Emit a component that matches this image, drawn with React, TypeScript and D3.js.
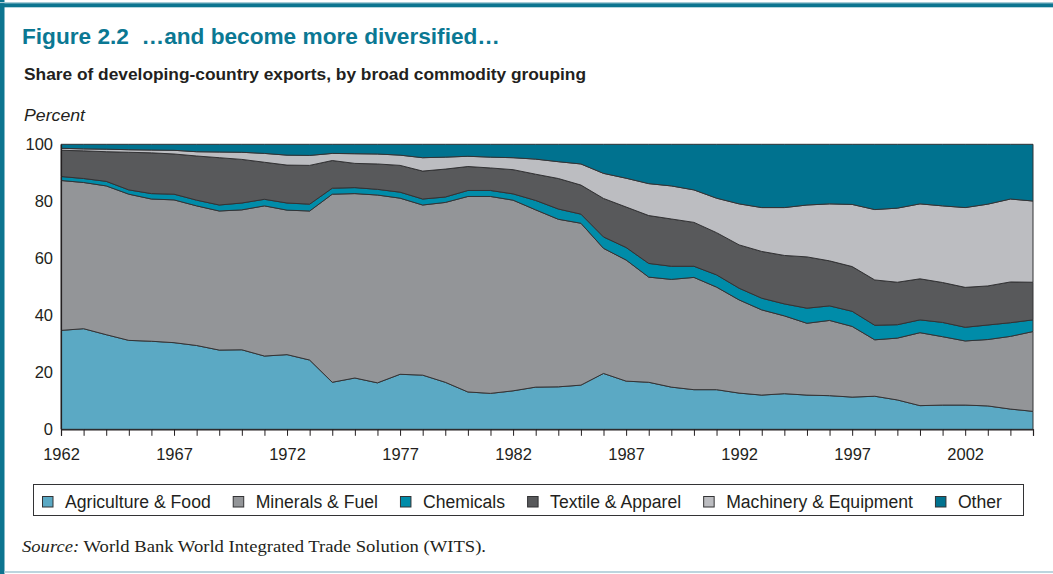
import React, { useEffect, useRef } from 'react';
import * as d3 from 'd3';

const years = d3.range(1962, 2006);

const categories = ['Agriculture & Food', 'Minerals & Fuel', 'Chemicals', 'Textile & Apparel', 'Machinery & Equipment', 'Other'];

// shares in percent, 1962..2005
const agriculture = [34.7, 35.3, 33.2, 31.2, 30.9, 30.4, 29.4, 27.8, 27.9, 25.7, 26.2, 24.3, 16.5, 18.0, 16.3, 19.3, 19.0, 16.5, 13.1, 12.6, 13.5, 14.8, 14.9, 15.5, 19.6, 16.9, 16.5, 14.8, 13.9, 13.9, 12.7, 12.0, 12.5, 12.0, 11.8, 11.3, 11.6, 10.3, 8.3, 8.5, 8.5, 8.2, 7.1, 6.3];
const minerals = [52.6, 51.3, 52.2, 51.3, 49.9, 50.1, 49.0, 48.8, 49.1, 52.7, 50.7, 52.3, 66.0, 64.7, 65.9, 61.8, 59.7, 63.1, 68.6, 69.1, 66.9, 62.2, 58.8, 56.8, 43.9, 42.5, 36.9, 37.8, 39.4, 36.0, 32.7, 29.9, 27.3, 25.2, 26.4, 24.8, 19.8, 21.7, 25.6, 24.0, 22.5, 23.3, 25.5, 28.0];
const chemicals = [1.4, 1.4, 1.6, 1.5, 1.9, 2.0, 2.0, 2.1, 2.4, 2.3, 2.5, 2.4, 2.1, 2.1, 2.0, 2.1, 2.1, 1.9, 2.1, 2.1, 2.2, 3.3, 3.6, 3.2, 4.0, 4.4, 4.8, 4.6, 3.9, 4.3, 4.1, 4.1, 4.2, 5.3, 5.1, 5.3, 5.1, 4.7, 4.5, 5.0, 4.8, 5.1, 4.8, 4.1];
const textile = [9.2, 9.7, 10.4, 13.2, 14.3, 14.1, 15.5, 16.6, 15.3, 13.0, 13.3, 13.6, 9.7, 8.5, 8.9, 9.4, 9.8, 9.8, 8.4, 7.9, 8.5, 9.2, 10.7, 10.2, 13.5, 14.2, 16.8, 16.6, 15.4, 14.8, 15.2, 16.4, 17.0, 18.0, 15.8, 15.7, 15.9, 14.9, 14.4, 14.0, 14.0, 13.7, 14.3, 13.2];
const machinery = [0.7, 0.7, 0.9, 0.9, 1.0, 1.3, 1.5, 2.0, 2.5, 3.1, 3.5, 3.5, 2.5, 3.4, 3.5, 3.6, 4.7, 4.2, 3.6, 3.8, 4.2, 5.3, 5.9, 7.4, 8.8, 10.1, 11.2, 11.6, 11.4, 12.1, 14.4, 15.4, 16.8, 18.2, 20.0, 21.8, 24.7, 26.0, 26.3, 26.9, 28.0, 28.7, 29.1, 28.5];
const other = [1.4, 1.6, 1.7, 1.9, 2.0, 2.1, 2.6, 2.7, 2.8, 3.2, 3.8, 3.9, 3.2, 3.3, 3.4, 3.8, 4.7, 4.5, 4.2, 4.5, 4.7, 5.2, 6.1, 6.9, 10.2, 11.9, 13.8, 14.6, 16.0, 18.9, 20.9, 22.2, 22.2, 21.3, 20.9, 21.1, 22.9, 22.4, 20.9, 21.6, 22.2, 21.0, 19.2, 19.9];

const series = [agriculture, minerals, chemicals, textile, machinery, other];
const colors = ['#5ba9c4', '#939598', '#008ca9', '#58595b', '#bcbdc1', '#00728f'];
const yTicks = [0, 20, 40, 60, 80, 100];

const W = 1053;
const H = 574;
const sans = '"Liberation Sans", Arial, Helvetica, sans-serif';

export default function App() {
  const svgRef = useRef<SVGSVGElement>(null);

  useEffect(() => {
    if (!svgRef.current) return;
    const svg = d3.select(svgRef.current);
    svg.selectAll('*').remove();

    const margin = { top: 144.3, right: 20, bottom: 144.7, left: 61 };
    const x = d3.scaleLinear().domain([1962, 2005]).range([margin.left, W - margin.right]);
    const y = d3.scaleLinear().domain([0, 100]).range([H - margin.bottom, margin.top]);

    // frame
    svg.append('rect').attr('x', 0).attr('y', 0).attr('width', 4.5).attr('height', H).attr('fill', '#0d7590');
    svg.append('rect').attr('x', 0).attr('y', 2).attr('width', W).attr('height', 1.3).attr('fill', '#a9cdd8');
    svg.append('rect').attr('x', 0).attr('y', 3.3).attr('width', W).attr('height', 4).attr('fill', '#0d7590');
    svg.append('rect').attr('x', 4.5).attr('y', 571).attr('width', W).attr('height', 2).attr('fill', '#bcd5de');

    // titles
    svg.append('text').attr('x', 22).attr('y', 44)
      .attr('font-family', sans).attr('font-weight', 'bold').attr('font-size', 22.5)
      .attr('textLength', 478).attr('lengthAdjust', 'spacingAndGlyphs')
      .attr('fill', '#0b7893').text('Figure 2.2\u00a0\u00a0\u2026and become more diversified\u2026');
    svg.append('text').attr('x', 24).attr('y', 80)
      .attr('font-family', sans).attr('font-weight', 'bold').attr('font-size', 16)
      .attr('textLength', 562).attr('lengthAdjust', 'spacingAndGlyphs')
      .attr('fill', '#231f20').text('Share of developing-country exports, by broad commodity grouping');
    svg.append('text').attr('x', 24).attr('y', 121)
      .attr('font-family', sans).attr('font-style', 'italic').attr('font-size', 17)
      .attr('textLength', 61).attr('lengthAdjust', 'spacingAndGlyphs')
      .attr('fill', '#231f20').text('Percent');

    // stacked areas
    const rows = years.map((yr, i) => {
      const r: Record<string, number> = { year: yr };
      categories.forEach((c, j) => { r[c] = series[j][i]; });
      return r;
    });
    const stacked = d3.stack<Record<string, number>>().keys(categories)(rows);
    const area = d3.area<d3.SeriesPoint<Record<string, number>>>()
      .x(d => x(d.data.year))
      .y0(d => y(d[0]))
      .y1(d => y(d[1]));

    svg.append('g').selectAll('path')
      .data(stacked)
      .enter()
      .append('path')
      .attr('d', area)
      .attr('fill', (_, i) => colors[i])
      .attr('stroke', '#333335')
      .attr('stroke-width', 1)
      .attr('stroke-linejoin', 'round');

    // x axis
    const xAxis = svg.append('g')
      .attr('transform', `translate(0,${y(0)})`)
      .call(d3.axisBottom(x).tickValues(years).tickSize(6.5).tickPadding(12)
        .tickFormat(d => ((d as number) - 1962) % 5 === 0 ? String(d) : ''));
    xAxis.select('.domain').attr('stroke', '#231f20').attr('stroke-width', 1.2);
    xAxis.selectAll('line').attr('stroke', '#231f20');
    xAxis.selectAll('text').attr('font-family', sans).attr('font-size', 16.5).attr('fill', '#231f20');

    // y axis
    const yAxis = svg.append('g')
      .attr('transform', `translate(${margin.left},0)`)
      .call(d3.axisLeft(y).tickValues(yTicks).tickSize(0).tickPadding(8));
    yAxis.select('.domain').attr('stroke', '#231f20').attr('stroke-width', 1.2);
    yAxis.selectAll('text').attr('font-family', sans).attr('font-size', 16.5).attr('fill', '#231f20');

    // legend
    const lg = svg.append('g');
    lg.append('rect').attr('x', 33.5).attr('y', 484.5).attr('width', 990).attr('height', 31)
      .attr('fill', 'white').attr('stroke', '#333335').attr('stroke-width', 1);
    let lx = 42;
    categories.forEach((c, i) => {
      lg.append('rect').attr('x', lx + 0.5).attr('y', 496.5).attr('width', 10.5).attr('height', 10.5)
        .attr('fill', colors[i]).attr('stroke', '#333335').attr('stroke-width', 1);
      const t = lg.append('text').attr('x', lx + 23).attr('y', 507.5)
        .attr('font-family', sans).attr('font-size', 17.6).attr('fill', '#231f20').text(c);
      const w = (t.node() as SVGTextElement).getComputedTextLength();
      lx += 23 + w + 22;
    });

    // source
    const src = svg.append('text').attr('x', 22).attr('y', 552)
      .attr('font-family', '"Liberation Serif", "DejaVu Serif", serif').attr('font-size', 17.5)
      .attr('textLength', 464).attr('lengthAdjust', 'spacingAndGlyphs').attr('fill', '#231f20');
    src.append('tspan').attr('font-style', 'italic').text('Source:');
    src.append('tspan').text(' World Bank World Integrated Trade Solution (WITS).');
  }, []);

  return (
    <svg ref={svgRef} width={W} height={H}
      style={{ position: 'absolute', left: 0, top: 0, background: '#ffffff' }} />
  );
}
